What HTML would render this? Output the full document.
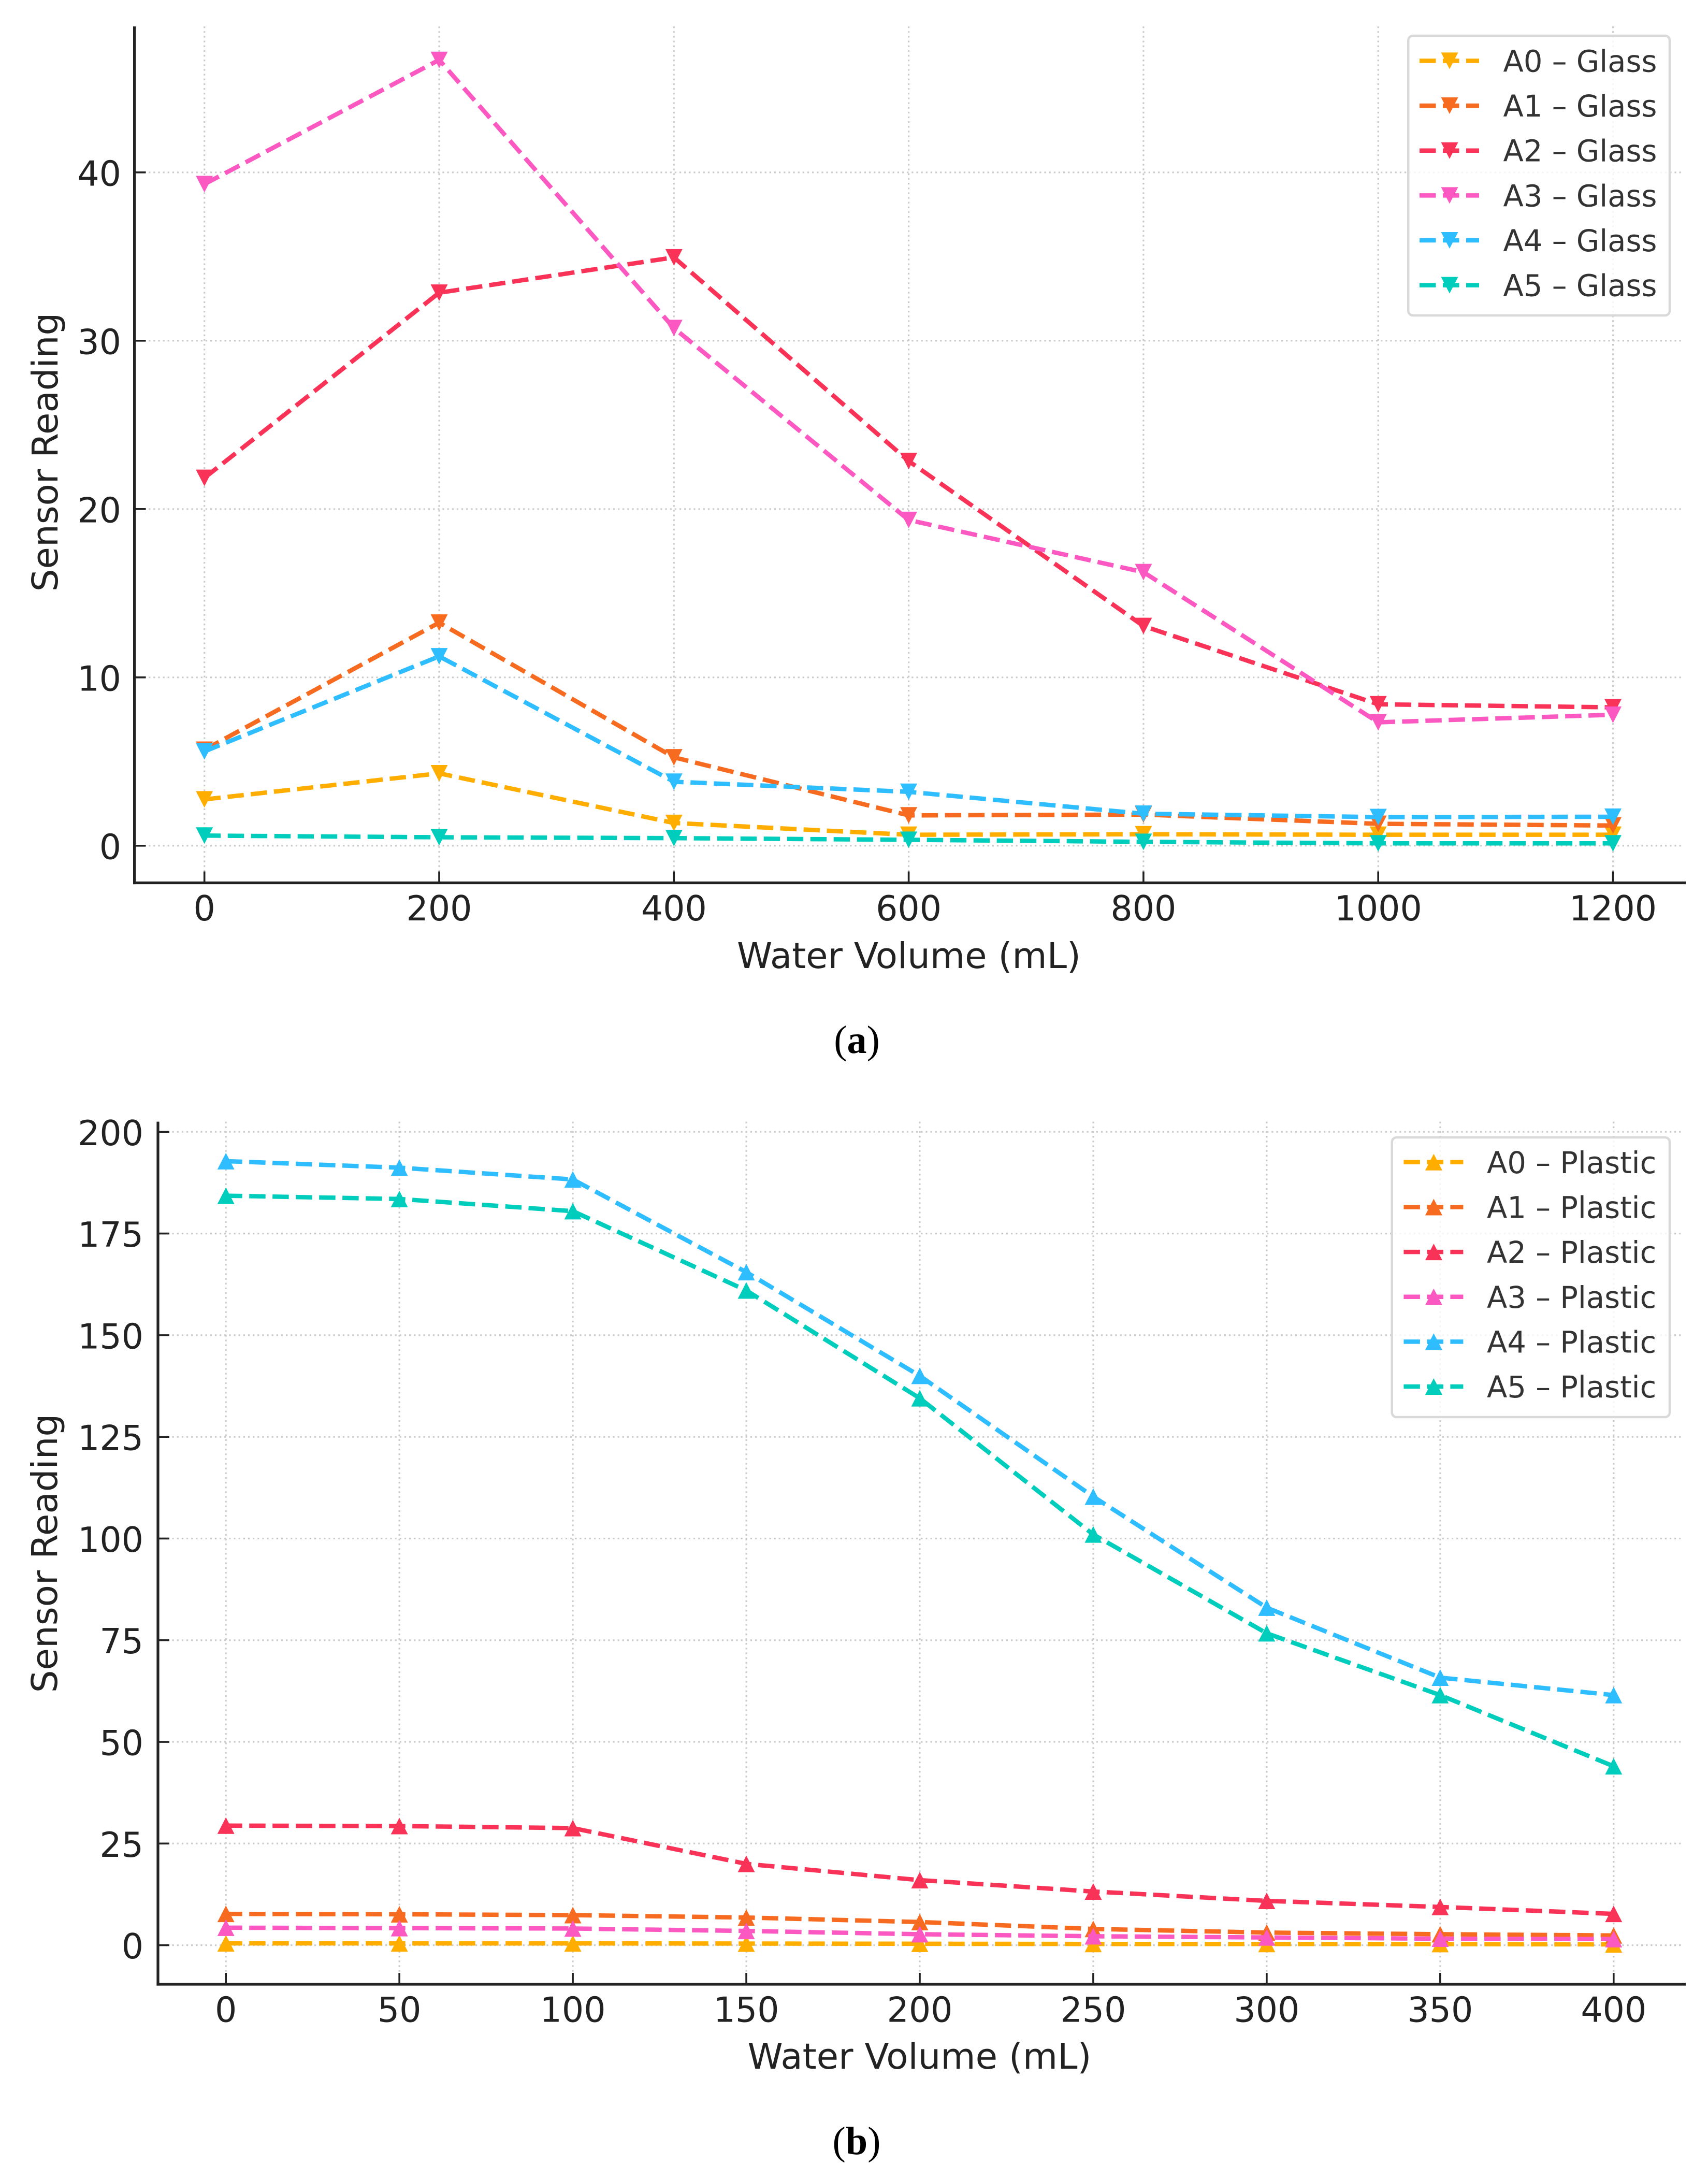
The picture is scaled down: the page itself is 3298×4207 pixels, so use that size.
<!DOCTYPE html>
<html lang="en">
<head>
<meta charset="utf-8">
<title>Sensor Reading vs Water Volume</title>
<style>
  html, body { margin: 0; padding: 0; background: #fff; }
  body { width: 3298px; height: 4207px; overflow: hidden; }
  svg { display: block; }
  text { font-family: "DejaVu Sans", "Liberation Sans", sans-serif; }
  .caption { font-family: "Liberation Serif", "DejaVu Serif", serif; font-size: 76px; fill: #000; }
  text.caption { font-family: "Liberation Serif", "DejaVu Serif", serif; }
</style>
</head>
<body>
<svg id="figure" xmlns="http://www.w3.org/2000/svg" width="3298" height="4207" viewBox="0 0 3298 4207">
  <rect x="0" y="0" width="3298" height="4207" fill="#ffffff"/>
  <g id="panel-a"></g>
  <g id="panel-b"></g>
  <text class="caption" x="1654.5" y="2033" text-anchor="middle">(<tspan font-weight="700">a</tspan>)</text>
  <text class="caption" x="1654" y="4159" text-anchor="middle">(<tspan font-weight="700">b</tspan>)</text>
</svg>
<script>
// ---- Shared categories ----
const sensorNames = ['A0', 'A1', 'A2', 'A3', 'A4', 'A5'];
const sensorColors = ['#ffae00', '#f76b20', '#f93357', '#fb58c1', '#2ebdff', '#00cdbc'];

// ---- Panel (a): Glass ----
const glassVolumes = [0, 200, 400, 600, 800, 1000, 1200];
const glassA0 = [2.75, 4.3, 1.35, 0.65, 0.68, 0.65, 0.65];
const glassA1 = [5.7, 13.25, 5.25, 1.8, 1.85, 1.3, 1.2];
const glassA2 = [21.85, 32.85, 34.95, 22.85, 13.05, 8.4, 8.22];
const glassA3 = [39.3, 46.68, 30.75, 19.35, 16.25, 7.33, 7.78];
const glassA4 = [5.6, 11.25, 3.8, 3.2, 1.9, 1.7, 1.72];
const glassA5 = [0.6, 0.5, 0.45, 0.35, 0.23, 0.14, 0.14];
const glassXTicks = [0, 200, 400, 600, 800, 1000, 1200];
const glassYTicks = [0, 10, 20, 30, 40];

// ---- Panel (b): Plastic ----
const plasticVolumes = [0, 50, 100, 150, 200, 250, 300, 350, 400];
const plasticA0 = [0.46, 0.45, 0.45, 0.4, 0.35, 0.3, 0.3, 0.28, 0.2];
const plasticA1 = [7.7, 7.6, 7.4, 6.8, 5.7, 4.0, 3.1, 2.7, 2.4];
const plasticA2 = [29.4, 29.3, 28.8, 20.0, 16.0, 13.2, 10.9, 9.4, 7.7];
const plasticA3 = [4.3, 4.2, 4.1, 3.5, 2.7, 2.2, 1.9, 1.6, 1.5];
const plasticA4 = [192.8, 191.2, 188.3, 165.5, 140, 110.3, 83, 65.8, 61.5];
const plasticA5 = [184.3, 183.5, 180.5, 161, 134.5, 101, 76.7, 61.5, 44];
const plasticXTicks = [0, 50, 100, 150, 200, 250, 300, 350, 400];
const plasticYTicks = [0, 25, 50, 75, 100, 125, 150, 175, 200];

// ---- Axis functions ----
function glassX(v) { return 394.7 + v * 2.2665; }
function glassY(v) { return 1632.8 - v * 32.5; }
function plasticX(v) { return 436.2 + v * 6.699; }
function plasticY(v) { return 3755.6 - v * 7.8515; }

const SVGNS = 'http://www.w3.org/2000/svg';
const AXIS_COLOR = '#222222';
const GRID_COLOR = '#cbcbcb';
const LINE_WIDTH = 8.5;
const LINE_DASH = '31.5 13.5';
const GRID_DASH = '3.3 5.85';

function make(tag, attrs, parent) {
  const el = document.createElementNS(SVGNS, tag);
  for (const k in attrs) el.setAttribute(k, attrs[k]);
  parent.appendChild(el);
  return el;
}

function triangle(cx, cy, up) {
  const hw = 16.5, hh = 16;
  return up
    ? `${cx},${cy - hh} ${cx + hw},${cy + hh} ${cx - hw},${cy + hh}`
    : `${cx},${cy + hh} ${cx + hw},${cy - hh} ${cx - hw},${cy - hh}`;
}

function drawPanel(p) {
  const root = document.getElementById(p.id);

  // grid
  p.xTicks.forEach(function (t) {
    const g = make('line', { x1: p.x(t), x2: p.x(t), y1: p.top, y2: p.bottom, stroke: GRID_COLOR, 'stroke-width': 3.2, 'stroke-dasharray': GRID_DASH }, root);
    
    
  });
  p.yTicks.forEach(function (t) {
    const g = make('line', { x1: p.left, x2: p.gridRight, y1: p.y(t), y2: p.y(t), stroke: GRID_COLOR, 'stroke-width': 3.2, 'stroke-dasharray': GRID_DASH }, root);
    
    
  });

  // series
  p.series.forEach(function (values, i) {
    const color = sensorColors[i];
    const group = make('g', {}, root);
    
    
    const pts = values.map(function (v, j) { return p.x(p.volumes[j]) + ',' + p.y(v); }).join(' ');
    const line = make('polyline', { points: pts, fill: 'none', stroke: color, 'stroke-width': LINE_WIDTH, 'stroke-dasharray': LINE_DASH, 'stroke-linejoin': 'round' }, group);
    
    
    values.forEach(function (v, j) {
      const m = make('polygon', { points: triangle(p.x(p.volumes[j]), p.y(v), p.up), fill: color }, group);
      
      
    });
  });

  // axes
  const ySpine = make('line', { x1: p.left, x2: p.left, y1: p.top, y2: p.bottom + 2.6, stroke: AXIS_COLOR, 'stroke-width': 5.2 }, root);
  
  
  const xSpine = make('line', { x1: p.left - 2.6, x2: p.right, y1: p.bottom, y2: p.bottom, stroke: AXIS_COLOR, 'stroke-width': 5.2 }, root);
  
  

  p.xTicks.forEach(function (t) {
    const tick = make('line', { x1: p.x(t), x2: p.x(t), y1: p.bottom, y2: p.bottom - 22, stroke: AXIS_COLOR, 'stroke-width': 3.6 }, root);
    
    
    const lab = make('text', { x: p.x(t), y: p.xTickBaseline, 'text-anchor': 'middle', 'font-size': 66.5, fill: '#222222' }, root);
    
    
    lab.textContent = String(t);
  });
  p.yTicks.forEach(function (t) {
    const tick = make('line', { x1: p.left, x2: p.left + 22, y1: p.y(t), y2: p.y(t), stroke: AXIS_COLOR, 'stroke-width': 3.6 }, root);
    
    
    const lab = make('text', { x: p.yTickRight, y: p.y(t) + 25.5, 'text-anchor': 'end', 'font-size': 66.5, fill: '#222222' }, root);
    
    
    lab.textContent = String(t);
  });

  // axis titles
  const xt = make('text', { x: p.xTitleX, y: p.xTitleY, 'text-anchor': 'middle', 'font-size': 69, fill: '#222222' }, root);
  
  
  xt.textContent = 'Water Volume (mL)';
  const yt = make('text', { x: 0, y: 0, 'text-anchor': 'middle', 'font-size': 69, fill: '#222222', transform: 'translate(' + p.yTitleX + ' ' + p.yTitleY + ') rotate(-90)' }, root);
  
  
  yt.textContent = 'Sensor Reading';

  // legend
  const lg = make('g', {}, root);
  
  
  const box = make('rect', { x: p.legend.x, y: p.legend.y, width: p.legend.w, height: p.legend.h, rx: 9, ry: 9, fill: 'rgba(255,255,255,0.8)', stroke: '#d9d9d9', 'stroke-width': 4.5 }, lg);
  
  
  sensorNames.forEach(function (name, i) {
    const ry = p.legend.firstRow + i * 86.65;
    const entry = make('g', {}, lg);
    
    
    const h = make('line', { x1: p.legend.handleX, x2: p.legend.handleX + 115, y1: ry, y2: ry, stroke: sensorColors[i], 'stroke-width': LINE_WIDTH, 'stroke-dasharray': LINE_DASH }, entry);
    
    
    const mk = make('polygon', { points: triangle(p.legend.handleX + 58, ry, p.up), fill: sensorColors[i] }, entry);
    
    
    const tx = make('text', { x: p.legend.textX, y: ry + 21, 'font-size': 57.5, fill: '#333333' }, entry);
    
    
    tx.textContent = name + ' \u2013 ' + p.material;
  });
}

drawPanel({
  id: 'panel-a', material: 'Glass', up: false,
  x: glassX, y: glassY, volumes: glassVolumes,
  series: [glassA0, glassA1, glassA2, glassA3, glassA4, glassA5],
  xTicks: glassXTicks, yTicks: glassYTicks,
  left: 259.6, right: 3255, gridRight: 3246, top: 51, bottom: 1704.5,
  xTickBaseline: 1777, yTickRight: 234,
  xTitleX: 1755, xTitleY: 1869, yTitleX: 111, yTitleY: 873,
  legend: { x: 2719.3, y: 69, w: 504.7, h: 540, firstRow: 117.4, handleX: 2741, textX: 2902.5 }
});

drawPanel({
  id: 'panel-b', material: 'Plastic', up: true,
  x: plasticX, y: plasticY, volumes: plasticVolumes,
  series: [plasticA0, plasticA1, plasticA2, plasticA3, plasticA4, plasticA5],
  xTicks: plasticXTicks, yTicks: plasticYTicks,
  left: 305, right: 3255, gridRight: 3247, top: 2165.6, bottom: 3831,
  xTickBaseline: 3903.3, yTickRight: 277,
  xTitleX: 1775.5, xTitleY: 3994, yTitleX: 110, yTitleY: 2999,
  legend: { x: 2687.7, y: 2196, w: 536.3, h: 540, firstRow: 2243.8, handleX: 2710.4, textX: 2871 }
});
</script>
</body>
</html>
